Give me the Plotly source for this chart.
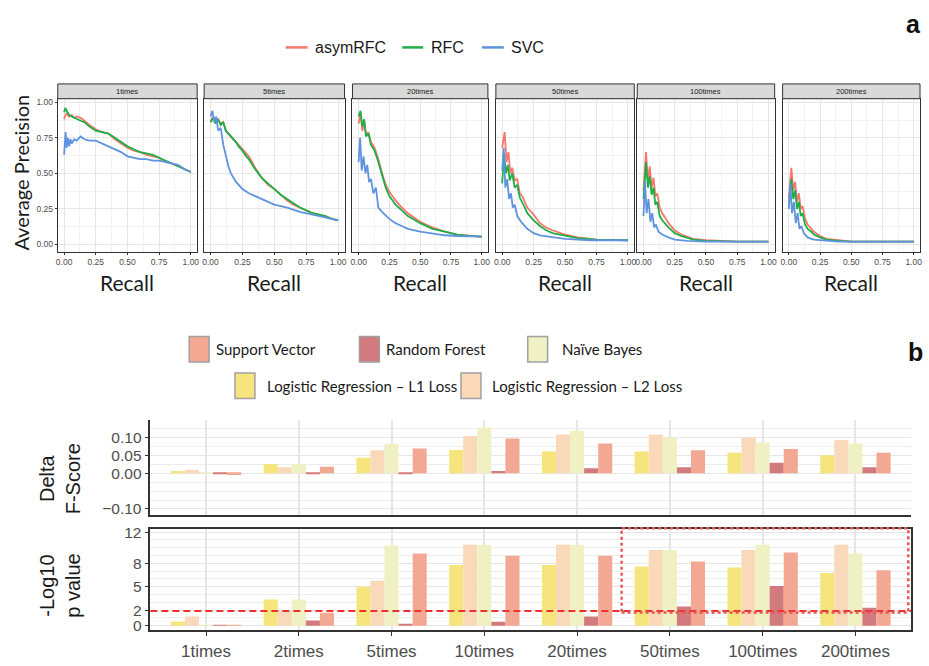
import plotly.graph_objects as go

W, H = 929, 666

# ---------------- precision-recall curves (panel a) ----------------
facets = ["1times", "5times", "20times", "50times", "100times", "200times"]
models = ["asymRFC", "RFC", "SVC"]
model_colors = {"asymRFC": "#F8766D", "RFC": "#1DAF45", "SVC": "#5F93E0"}

# 1times
r1_asym = [0, 0.01, 0.02, 0.04, 0.06, 0.08, 0.10, 0.13, 0.16, 0.20, 0.25, 0.30, 0.35, 0.40, 0.45, 0.50, 0.55, 0.60, 0.65, 0.70, 0.75, 0.80, 0.85, 0.90, 0.95, 1.0]
p1_asym = [0.88, 0.91, 0.92, 0.90, 0.91, 0.89, 0.90, 0.89, 0.87, 0.84, 0.81, 0.79, 0.78, 0.74, 0.71, 0.68, 0.66, 0.65, 0.63, 0.62, 0.61, 0.58, 0.57, 0.55, 0.53, 0.51]
r1_rfc = [0, 0.01, 0.02, 0.04, 0.06, 0.08, 0.10, 0.13, 0.16, 0.20, 0.25, 0.30, 0.35, 0.40, 0.45, 0.50, 0.55, 0.60, 0.65, 0.70, 0.75, 0.80, 0.85, 0.90, 0.95, 1.0]
p1_rfc = [0.93, 0.96, 0.94, 0.91, 0.90, 0.89, 0.88, 0.87, 0.86, 0.83, 0.80, 0.79, 0.78, 0.75, 0.72, 0.69, 0.67, 0.65, 0.64, 0.63, 0.61, 0.59, 0.57, 0.55, 0.53, 0.51]
r1_svc = [0, 0.005, 0.012, 0.02, 0.03, 0.04, 0.05, 0.06, 0.08, 0.10, 0.13, 0.16, 0.20, 0.25, 0.30, 0.35, 0.40, 0.45, 0.50, 0.55, 0.60, 0.65, 0.70, 0.75, 0.80, 0.85, 0.90, 0.95, 1.0]
p1_svc = [0.63, 0.70, 0.79, 0.68, 0.75, 0.69, 0.74, 0.71, 0.74, 0.73, 0.76, 0.74, 0.73, 0.73, 0.71, 0.69, 0.67, 0.65, 0.62, 0.61, 0.60, 0.60, 0.59, 0.59, 0.58, 0.57, 0.56, 0.53, 0.51]

# 5times
r5_asym = [0, 0.02, 0.04, 0.06, 0.08, 0.10, 0.12, 0.15, 0.18, 0.20, 0.22, 0.25, 0.28, 0.30, 0.35, 0.40, 0.45, 0.50, 0.55, 0.60, 0.65, 0.70, 0.75, 0.80, 0.85, 0.90, 0.95, 1.0]
p5_asym = [0.86, 0.90, 0.86, 0.88, 0.85, 0.86, 0.80, 0.77, 0.74, 0.72, 0.70, 0.67, 0.64, 0.62, 0.54, 0.47, 0.42, 0.39, 0.35, 0.31, 0.28, 0.26, 0.24, 0.22, 0.21, 0.20, 0.18, 0.17]
r5_rfc = [0, 0.02, 0.04, 0.06, 0.08, 0.10, 0.12, 0.15, 0.18, 0.20, 0.22, 0.25, 0.28, 0.30, 0.35, 0.40, 0.45, 0.50, 0.55, 0.60, 0.65, 0.70, 0.75, 0.80, 0.85, 0.90, 0.95, 1.0]
p5_rfc = [0.86, 0.89, 0.85, 0.88, 0.84, 0.86, 0.80, 0.77, 0.74, 0.72, 0.69, 0.66, 0.62, 0.60, 0.53, 0.47, 0.43, 0.39, 0.35, 0.32, 0.29, 0.26, 0.24, 0.22, 0.21, 0.20, 0.18, 0.17]
r5_svc = [0, 0.015, 0.03, 0.045, 0.06, 0.08, 0.10, 0.12, 0.14, 0.16, 0.18, 0.20, 0.25, 0.30, 0.35, 0.40, 0.45, 0.50, 0.60, 0.70, 0.80, 0.90, 1.0]
p5_svc = [0.90, 0.94, 0.86, 0.90, 0.80, 0.82, 0.70, 0.62, 0.55, 0.50, 0.47, 0.44, 0.39, 0.36, 0.34, 0.32, 0.30, 0.28, 0.26, 0.23, 0.21, 0.19, 0.17]

# 20times
r20_asym = [0, 0.015, 0.03, 0.045, 0.06, 0.08, 0.10, 0.13, 0.16, 0.18, 0.20, 0.22, 0.25, 0.30, 0.35, 0.40, 0.50, 0.60, 0.70, 0.80, 0.90, 1.0]
p20_asym = [0.85, 0.92, 0.80, 0.86, 0.77, 0.79, 0.72, 0.68, 0.60, 0.53, 0.47, 0.42, 0.37, 0.31, 0.26, 0.22, 0.16, 0.12, 0.09, 0.07, 0.06, 0.055]
r20_rfc = [0, 0.015, 0.03, 0.045, 0.06, 0.08, 0.10, 0.13, 0.16, 0.18, 0.20, 0.22, 0.25, 0.30, 0.35, 0.40, 0.50, 0.60, 0.70, 0.80, 0.90, 1.0]
p20_rfc = [0.90, 0.94, 0.83, 0.88, 0.76, 0.78, 0.70, 0.66, 0.58, 0.52, 0.45, 0.40, 0.34, 0.28, 0.24, 0.20, 0.15, 0.11, 0.09, 0.07, 0.06, 0.055]
r20_svc = [0, 0.012, 0.025, 0.04, 0.055, 0.07, 0.085, 0.10, 0.12, 0.14, 0.16, 0.18, 0.20, 0.25, 0.30, 0.35, 0.40, 0.50, 0.60, 0.70, 0.80, 0.90, 1.0]
p20_svc = [0.58, 0.75, 0.52, 0.62, 0.50, 0.56, 0.44, 0.46, 0.36, 0.40, 0.26, 0.24, 0.22, 0.18, 0.15, 0.13, 0.11, 0.09, 0.075, 0.065, 0.06, 0.055, 0.055]

# 50times
r50_asym = [0, 0.02, 0.035, 0.05, 0.065, 0.08, 0.10, 0.12, 0.14, 0.16, 0.18, 0.20, 0.25, 0.30, 0.35, 0.40, 0.50, 0.60, 0.75, 1.0]
p50_asym = [0.68, 0.79, 0.58, 0.65, 0.50, 0.54, 0.45, 0.46, 0.36, 0.34, 0.30, 0.26, 0.21, 0.15, 0.12, 0.10, 0.07, 0.05, 0.035, 0.03]
r50_rfc = [0, 0.015, 0.03, 0.045, 0.06, 0.08, 0.10, 0.12, 0.14, 0.16, 0.18, 0.20, 0.25, 0.30, 0.35, 0.40, 0.50, 0.60, 0.75, 1.0]
p50_rfc = [0.43, 0.64, 0.50, 0.56, 0.45, 0.50, 0.40, 0.42, 0.33, 0.30, 0.26, 0.22, 0.17, 0.13, 0.10, 0.08, 0.06, 0.045, 0.035, 0.03]
r50_svc = [0, 0.012, 0.025, 0.04, 0.055, 0.07, 0.085, 0.10, 0.12, 0.15, 0.20, 0.25, 0.30, 0.40, 0.50, 0.70, 1.0]
p50_svc = [0.52, 0.68, 0.40, 0.46, 0.32, 0.36, 0.26, 0.28, 0.20, 0.16, 0.11, 0.08, 0.065, 0.05, 0.04, 0.03, 0.03]

# 100times
r100_asym = [0, 0.015, 0.02, 0.035, 0.05, 0.065, 0.08, 0.095, 0.11, 0.13, 0.15, 0.18, 0.20, 0.25, 0.30, 0.40, 0.50, 0.75, 1.0]
p100_asym = [0.38, 0.60, 0.65, 0.45, 0.55, 0.40, 0.47, 0.34, 0.36, 0.26, 0.22, 0.18, 0.15, 0.10, 0.07, 0.04, 0.03, 0.02, 0.02]
r100_rfc = [0, 0.015, 0.02, 0.035, 0.05, 0.065, 0.08, 0.095, 0.11, 0.13, 0.15, 0.18, 0.20, 0.25, 0.30, 0.40, 0.50, 0.75, 1.0]
p100_rfc = [0.32, 0.55, 0.58, 0.40, 0.48, 0.35, 0.40, 0.28, 0.30, 0.20, 0.17, 0.14, 0.12, 0.08, 0.06, 0.035, 0.025, 0.02, 0.02]
r100_svc = [0, 0.012, 0.025, 0.04, 0.055, 0.07, 0.085, 0.10, 0.12, 0.15, 0.20, 0.25, 0.35, 0.50, 1.0]
p100_svc = [0.20, 0.44, 0.22, 0.32, 0.16, 0.22, 0.12, 0.14, 0.09, 0.07, 0.05, 0.035, 0.025, 0.02, 0.02]

# 200times
r200_asym = [0, 0.015, 0.02, 0.035, 0.05, 0.065, 0.08, 0.095, 0.11, 0.13, 0.15, 0.18, 0.20, 0.25, 0.30, 0.40, 0.50, 1.0]
p200_asym = [0.33, 0.50, 0.54, 0.38, 0.44, 0.30, 0.36, 0.25, 0.27, 0.18, 0.14, 0.11, 0.09, 0.06, 0.04, 0.03, 0.02, 0.02]
r200_rfc = [0, 0.015, 0.02, 0.035, 0.05, 0.065, 0.08, 0.095, 0.11, 0.13, 0.15, 0.18, 0.20, 0.25, 0.30, 0.40, 0.50, 1.0]
p200_rfc = [0.28, 0.44, 0.46, 0.32, 0.38, 0.25, 0.30, 0.20, 0.22, 0.14, 0.11, 0.09, 0.07, 0.05, 0.035, 0.025, 0.02, 0.02]
r200_svc = [0, 0.012, 0.025, 0.04, 0.055, 0.07, 0.085, 0.10, 0.12, 0.15, 0.20, 0.30, 0.40, 1.0]
p200_svc = [0.25, 0.43, 0.22, 0.30, 0.15, 0.22, 0.11, 0.13, 0.08, 0.05, 0.035, 0.025, 0.02, 0.02]

curves = {
    "1times": [(r1_asym, p1_asym), (r1_rfc, p1_rfc), (r1_svc, p1_svc)],
    "5times": [(r5_asym, p5_asym), (r5_rfc, p5_rfc), (r5_svc, p5_svc)],
    "20times": [(r20_asym, p20_asym), (r20_rfc, p20_rfc), (r20_svc, p20_svc)],
    "50times": [(r50_asym, p50_asym), (r50_rfc, p50_rfc), (r50_svc, p50_svc)],
    "100times": [(r100_asym, p100_asym), (r100_rfc, p100_rfc), (r100_svc, p100_svc)],
    "200times": [(r200_asym, p200_asym), (r200_rfc, p200_rfc), (r200_svc, p200_svc)],
}

# ---------------- classifier comparison bars (panel b) ----------------
ratios = ["1times", "2times", "5times", "10times", "20times", "50times", "100times", "200times"]
classifiers = ["Logistic Regression – L1 Loss", "Logistic Regression – L2 Loss",
               "Naïve Bayes", "Random Forest", "Support Vector"]
clf_colors = ["#F6E47C", "#FAD8BA", "#F0F1C2", "#D27A7E", "#F2A893"]

delta_l1 = [0.006, 0.026, 0.043, 0.065, 0.061, 0.061, 0.057, 0.050]
delta_l2 = [0.010, 0.017, 0.064, 0.104, 0.108, 0.108, 0.100, 0.093]
delta_nb = [0.002, 0.026, 0.082, 0.128, 0.119, 0.100, 0.086, 0.083]
delta_rf = [-0.002, -0.002, -0.002, 0.006, 0.014, 0.017, 0.029, 0.017]
delta_sv = [-0.005, 0.018, 0.069, 0.097, 0.083, 0.064, 0.068, 0.057]

logp_l1 = [0.54, 3.36, 5.0, 7.78, 7.78, 7.6, 7.45, 6.77]
logp_l2 = [1.17, 1.9, 5.76, 10.39, 10.39, 9.72, 9.72, 10.39]
logp_nb = [0.05, 3.36, 10.27, 10.39, 10.39, 9.72, 10.39, 9.26]
logp_rf = [0.1, 0.67, 0.2, 0.5, 1.17, 2.48, 5.09, 2.31]
logp_sv = [0.05, 1.68, 9.26, 8.96, 8.96, 8.24, 9.38, 7.11]

delta_vals = [delta_l1, delta_l2, delta_nb, delta_rf, delta_sv]
logp_vals = [logp_l1, logp_l2, logp_nb, logp_rf, logp_sv]
threshold = 1.9

# ---------------- layout helpers ----------------
def px_x(a):
    return a / W


def px_y(b):
    return 1 - b / H


def xdom(left, right):
    return [left / W, right / W]


def ydom(top, bottom):
    return [1 - bottom / H, 1 - top / H]


fig = go.Figure()
layout = dict(
    width=W, height=H, margin=dict(l=0, r=0, t=0, b=0),
    paper_bgcolor="white", plot_bgcolor="white", showlegend=False,
    barmode="group", bargap=0.242, bargroupgap=0,
)
shapes, annotations = [], []

panel_x = [(56, 196), (203, 344), (352, 488), (496, 635), (638, 776), (784, 922)]
panel_top, panel_bottom, strip_top = 95, 250, 80
tick_font = dict(family="Liberation Sans, Arial", size=8.5, color="#4D4D4D")
rvals = [0, 0.25, 0.5, 0.75, 1.0]
rtext = ["0.00", "0.25", "0.50", "0.75", "1.00"]
minor_vals = [-0.125 + 0.25 * k for k in range(6)]

for i, facet in enumerate(facets):
    n = i + 1
    xa, ya = f"x{n}" if n > 1 else "x", f"y{n}" if n > 1 else "y"
    left, right = panel_x[i]
    for m, (rx, py) in zip(models, curves[facet]):
        fig.add_trace(go.Scatter(x=rx, y=py, mode="lines", xaxis=xa, yaxis=ya,
                                 line=dict(color=model_colors[m], width=1.8), name=m))
    layout[f"xaxis{n if n > 1 else ''}"] = dict(
        domain=xdom(left, right), anchor=ya, range=[-0.05, 1.05],
        tickvals=rvals, ticktext=rtext, tickfont=tick_font,
        ticks="outside", ticklen=2, tickcolor="#333",
        showline=True, mirror=True, linecolor="#333", linewidth=1,
        showgrid=True, gridcolor="#E6E6E6", gridwidth=1, zeroline=False,
        minor=dict(tickvals=minor_vals, showgrid=True, gridcolor="#F2F2F2", ticks=""),
    )
    layout[f"yaxis{n if n > 1 else ''}"] = dict(
        domain=ydom(panel_top, panel_bottom), anchor=xa, range=[-0.05, 1.025],
        tickvals=rvals, ticktext=rtext, tickfont=tick_font, showticklabels=(n == 1),
        ticks="outside" if n == 1 else "", ticklen=2, tickcolor="#333",
        showline=True, mirror=True, linecolor="#333", linewidth=1,
        showgrid=True, gridcolor="#E6E6E6", gridwidth=1, zeroline=False,
        minor=dict(tickvals=minor_vals, showgrid=True, gridcolor="#F2F2F2", ticks=""),
    )
    # facet strip
    shapes.append(dict(type="rect", xref="paper", yref="paper",
                       x0=px_x(left), x1=px_x(right), y0=px_y(panel_top), y1=px_y(strip_top),
                       fillcolor="#D9D9D9", line=dict(color="#333", width=1), layer="above"))
    annotations.append(dict(text=facet, xref="paper", yref="paper",
                            x=px_x((left + right) / 2), y=px_y((panel_top + strip_top) / 2),
                            showarrow=False, xanchor="center", yanchor="middle",
                            font=dict(family="Liberation Sans, Arial", size=7.5, color="#1A1A1A")))
    annotations.append(dict(text="Recall", xref="paper", yref="paper",
                            x=px_x((left + right) / 2), y=px_y(281),
                            showarrow=False, xanchor="center", yanchor="middle",
                            font=dict(family="Lato, Carlito, sans-serif", size=21, color="#1A1A1A")))

annotations.append(dict(text="Average Precision", xref="paper", yref="paper",
                        x=px_x(19), y=px_y(170), textangle=-90, showarrow=False,
                        xanchor="center", yanchor="middle",
                        font=dict(family="Lato, Carlito, sans-serif", size=20, color="#1A1A1A")))

# legend of panel a
legend_a = [("asymRFC", 285, 307, 312), ("RFC", 402, 423, 429), ("SVC", 482, 504, 509)]
for name, l0, l1, tx in legend_a:
    shapes.append(dict(type="line", xref="paper", yref="paper",
                       x0=px_x(l0), x1=px_x(l1), y0=px_y(43), y1=px_y(43),
                       line=dict(color=model_colors[name], width=2.5)))
    annotations.append(dict(text=name, xref="paper", yref="paper", x=px_x(tx), y=px_y(43),
                            showarrow=False, xanchor="left", yanchor="middle",
                            font=dict(family="Liberation Sans Narrow, Liberation Sans, Arial",
                                      size=16, color="#1A1A1A")))

annotations.append(dict(text="<b>a</b>", xref="paper", yref="paper", x=px_x(915), y=px_y(19),
                        showarrow=False, xanchor="center", yanchor="middle",
                        font=dict(family="Liberation Sans, Arial", size=25, color="#111")))
annotations.append(dict(text="<b>b</b>", xref="paper", yref="paper", x=px_x(917), y=px_y(352),
                        showarrow=False, xanchor="center", yanchor="middle",
                        font=dict(family="Liberation Sans, Arial", size=25, color="#111")))

# legend of panel b
legend_b = [
    ("Support Vector", 4, 188, 336, 362, 213),
    ("Random Forest", 3, 359, 336, 362, 384),
    ("Naïve Bayes", 2, 528, 336, 362, 560),
    ("Logistic Regression – L1 Loss", 0, 234, 373, 399, 264),
    ("Logistic Regression – L2 Loss", 1, 461, 373, 399, 490),
]
for label, ci, sx, sy0, sy1, tx in legend_b:
    shapes.append(dict(type="rect", xref="paper", yref="paper",
                       x0=px_x(sx), x1=px_x(sx + 20), y0=px_y(sy1), y1=px_y(sy0),
                       fillcolor=clf_colors[ci], line=dict(color="#A0A0A0", width=1.5)))
    annotations.append(dict(text=label, xref="paper", yref="paper",
                            x=px_x(tx), y=px_y((sy0 + sy1) / 2),
                            showarrow=False, xanchor="left", yanchor="middle",
                            font=dict(family="Lato, Carlito, sans-serif", size=15, color="#1A1A1A")))

# bar panels
bx0, bx1 = 149, 913
cat_font = dict(family="Liberation Sans, Arial", size=17, color="#4D4D4D")
val_font = dict(family="Liberation Sans, Arial", size=15.5, color="#4D4D4D")
for ci, name in enumerate(classifiers):
    fig.add_trace(go.Bar(x=ratios, y=delta_vals[ci], xaxis="x7", yaxis="y7",
                         marker=dict(color=clf_colors[ci], line=dict(width=0)), name=name))
    fig.add_trace(go.Bar(x=ratios, y=logp_vals[ci], xaxis="x8", yaxis="y8",
                         marker=dict(color=clf_colors[ci], line=dict(width=0)), name=name))

layout["xaxis7"] = dict(domain=xdom(bx0, bx1), anchor="y7", type="category",
                        categoryarray=ratios, range=[-0.6, 7.6], showticklabels=False,
                        ticks="", showline=True, linecolor="#333", linewidth=1.5,
                        showgrid=True, gridcolor="#E6E6E6", gridwidth=1.5, zeroline=False)
layout["yaxis7"] = dict(domain=ydom(421, 517), anchor="x7", range=[-0.117, 0.148],
                        tickvals=[-0.1, 0, 0.05, 0.1], ticktext=["−0.10", "0.00", "0.05", "0.10"],
                        tickfont=val_font, ticks="outside", ticklen=4, tickcolor="#333",
                        showline=True, linecolor="#333", linewidth=1.5,
                        showgrid=True, gridcolor="#E6E6E6", gridwidth=1.2, zeroline=False,
                        minor=dict(dtick=0.025, tick0=0, showgrid=True, gridcolor="#EDEDED", ticks=""))
layout["xaxis8"] = dict(domain=xdom(bx0, bx1), anchor="y8", type="category",
                        categoryarray=ratios, range=[-0.6, 7.6], tickfont=cat_font,
                        ticks="outside", ticklen=4, tickcolor="#333",
                        showline=True, mirror=True, linecolor="#333", linewidth=1.5,
                        showgrid=True, gridcolor="#E6E6E6", gridwidth=1.5, zeroline=False)
layout["yaxis8"] = dict(domain=ydom(531, 634), anchor="x8", range=[-0.6, 12.42],
                        tickvals=[0, 2, 5, 8, 12], tickfont=val_font,
                        ticks="outside", ticklen=4, tickcolor="#333",
                        showline=True, mirror=True, linecolor="#333", linewidth=1.5,
                        showgrid=True, gridcolor="#E6E6E6", gridwidth=1.2, zeroline=False,
                        minor=dict(dtick=1, tick0=0, showgrid=True, gridcolor="#EDEDED", ticks=""))

# significance threshold and highlighted region
shapes.append(dict(type="line", xref="x8 domain", yref="y8", x0=0, x1=1,
                   y0=threshold, y1=threshold, layer="above",
                   line=dict(color="#EE3030", width=2, dash="7px,4px")))
shapes.append(dict(type="rect", xref="x8", yref="y8 domain", x0=4.48, x1=7.57,
                   y0=(1.7 + 0.6) / 13.02, y1=1.005, layer="above",
                   line=dict(color="#E85555", width=2.5, dash="dot")))

annotations.append(dict(text="Delta<br>F-Score", xref="paper", yref="paper",
                        x=px_x(58), y=px_y(480), textangle=-90, showarrow=False,
                        xanchor="center", yanchor="middle",
                        font=dict(family="Liberation Sans, Arial", size=20, color="#1A1A1A")))
annotations.append(dict(text="-Log10<br>p value", xref="paper", yref="paper",
                        x=px_x(58), y=px_y(588), textangle=-90, showarrow=False,
                        xanchor="center", yanchor="middle",
                        font=dict(family="Liberation Sans, Arial", size=20, color="#1A1A1A")))

layout["shapes"] = shapes
layout["annotations"] = annotations
fig.update_layout(**layout)
fig.write_html("out.html")
